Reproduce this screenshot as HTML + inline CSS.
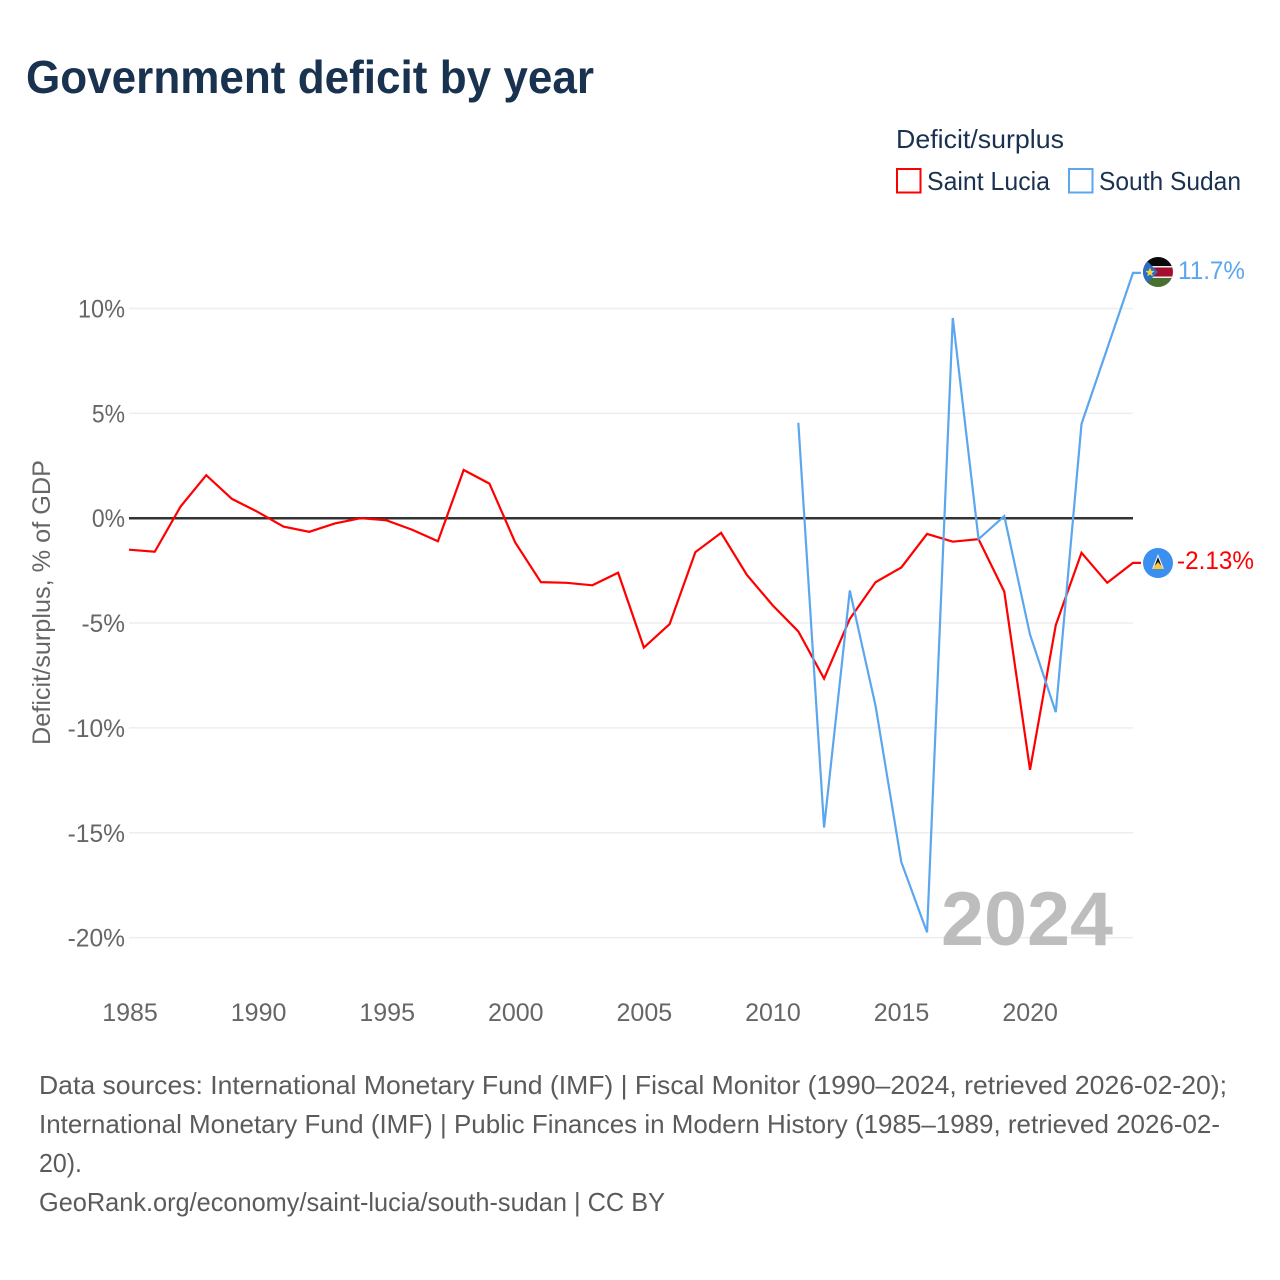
<!DOCTYPE html>
<html lang="en">
<head>
<meta charset="utf-8">
<title>Government deficit by year</title>
<style>
html,body{margin:0;padding:0;background:#fff;width:1280px;height:1280px;overflow:hidden}
svg{display:block}
text{font-family:"Liberation Sans",sans-serif}
.tick{font-size:25px;fill:#666}
.src{font-size:26px;fill:#5b5b5b}
.leg{font-size:26px;fill:#1a3150}
</style>
</head>
<body>
<svg id="chart" xmlns="http://www.w3.org/2000/svg" width="1280" height="1280" viewBox="0 0 1280 1280">
  <rect width="1280" height="1280" fill="#fff"/>
  <text x="26" y="93" font-size="46" font-weight="700" fill="#18324f" textLength="568" lengthAdjust="spacingAndGlyphs">Government deficit by year</text>

  <text class="leg" x="896" y="148" textLength="168" lengthAdjust="spacingAndGlyphs">Deficit/surplus</text>
  <g>
    <rect x="897" y="169" width="23.500" height="23.500" fill="#fff" stroke="#ff0000" stroke-width="2"/>
    <text class="leg" x="927" y="190" textLength="123" lengthAdjust="spacingAndGlyphs">Saint Lucia</text>
  </g>
  <g>
    <rect x="1069" y="169" width="23.500" height="23.500" fill="#fff" stroke="#5ba6ee" stroke-width="2"/>
    <text class="leg" x="1099" y="190" textLength="142" lengthAdjust="spacingAndGlyphs">South Sudan</text>
  </g>

  <text transform="translate(50,745) rotate(-90)" font-size="25" fill="#666" textLength="285" lengthAdjust="spacingAndGlyphs">Deficit/surplus, % of GDP</text>

  <g id="grid"></g>
  <g id="yticks"></g>
  <g id="xticks"></g>

  <text x="941" y="945" font-size="76" font-weight="700" fill="#bdbdbd" textLength="172" lengthAdjust="spacingAndGlyphs">2024</text>

  <g id="series"></g>

  <g>
    <clipPath id="flagClip"><circle cx="1158" cy="272" r="15"/></clipPath>
    <g clip-path="url(#flagClip)">
      <rect x="1143" y="257" width="30" height="10" fill="#0a0a0a"/>
      <rect x="1143" y="267" width="30" height="10" fill="#a50f2d"/>
      <rect x="1143" y="277" width="30" height="10" fill="#4a7030"/>
      <rect x="1143" y="266" width="30" height="1.500" fill="#eee"/>
      <rect x="1143" y="276.500" width="30" height="1.500" fill="#eee"/>
      <polygon points="1143,257 1158,272 1143,287" fill="#2a6fc4"/>
      <polygon points="1150,267.500 1151.300,270.800 1154.500,271 1152,273.100 1152.800,276.300 1150,274.500 1147.200,276.300 1148,273.100 1145.500,271 1148.700,270.800" fill="#f5d33b"/>
    </g>
  </g>
  <g>
    <circle cx="1158" cy="563" r="15" fill="#3a8ff0"/>
    <polygon points="1158,554 1164,569 1152,569" fill="#f0f0f0"/>
    <polygon points="1158,557 1162.500,569 1153.500,569" fill="#111"/>
    <polygon points="1158,562 1164,569 1152,569" fill="#f5c93b"/>
  </g>
  <text id="label-ss" x="1178" y="279" font-size="25" fill="#5ba6ee" textLength="67" lengthAdjust="spacingAndGlyphs">11.7%</text>
  <text id="label-sl" x="1177" y="569" font-size="25" fill="#ff0000" textLength="77" lengthAdjust="spacingAndGlyphs">-2.13%</text>

  <g>
    <text class="src" x="39" y="1094" textLength="1188" lengthAdjust="spacingAndGlyphs">Data sources: International Monetary Fund (IMF) | Fiscal Monitor (1990–2024, retrieved 2026-02-20);</text>
    <text class="src" x="39" y="1133" textLength="1181" lengthAdjust="spacingAndGlyphs">International Monetary Fund (IMF) | Public Finances in Modern History (1985–1989, retrieved 2026-02-</text>
    <text class="src" x="39" y="1172" textLength="43" lengthAdjust="spacingAndGlyphs">20).</text>
    <text class="src" x="39" y="1211" textLength="626" lengthAdjust="spacingAndGlyphs">GeoRank.org/economy/saint-lucia/south-sudan | CC BY</text>
  </g>
</svg>
<script>
const saintLuciaYears = [1985,1986,1987,1988,1989,1990,1991,1992,1993,1994,1995,1996,1997,1998,1999,2000,2001,2002,2003,2004,2005,2006,2007,2008,2009,2010,2011,2012,2013,2014,2015,2016,2017,2018,2019,2020,2021,2022,2023,2024];
const saintLuciaValues = [-1.5,-1.6,0.55,2.05,0.92,0.3,-0.4,-0.65,-0.25,0,-0.1,-0.55,-1.1,2.3,1.65,-1.15,-3.05,-3.08,-3.2,-2.6,-6.17,-5.05,-1.62,-0.7,-2.7,-4.15,-5.4,-7.65,-4.8,-3.05,-2.35,-0.75,-1.12,-1.0,-3.5,-12.0,-5.1,-1.65,-3.08,-2.13];
const southSudanYears = [2011,2012,2013,2014,2015,2016,2017,2018,2019,2020,2021,2022,2023,2024];
const southSudanValues = [4.55,-14.75,-3.45,-8.95,-16.4,-19.75,9.55,-1.0,0.1,-5.55,-9.25,4.5,8.1,11.7];
const yTickValues = [10,5,0,-5,-10,-15,-20];
const yTickLabels = ['10%','5%','0%','-5%','-10%','-15%','-20%'];
const xTickValues = [1985,1990,1995,2000,2005,2010,2015,2020];
const xTickLabels = ['1985','1990','1995','2000','2005','2010','2015','2020'];

const NS = 'http://www.w3.org/2000/svg';
const xScale = year => 129 + (year - 1985) * (1133 - 129) / 39;
const tickX = year => 130 + (year - 1985) * (1133 - 130) / 39;
const yScale = value => 518.2 - value * 20.97;

const gridGroup = document.getElementById('grid');
const yTickGroup = document.getElementById('yticks');
const xTickGroup = document.getElementById('xticks');
const seriesGroup = document.getElementById('series');

yTickValues.forEach((v, i) => {
  if (v !== 0) {
    const line = document.createElementNS(NS, 'line');
    
    
    line.setAttribute('x1', 129);
    line.setAttribute('x2', 1133);
    line.setAttribute('y1', yScale(v));
    line.setAttribute('y2', yScale(v));
    line.setAttribute('stroke', '#eeeeee');
    line.setAttribute('stroke-width', 1.5);
    gridGroup.appendChild(line);
  }
  const label = document.createElementNS(NS, 'text');
  
  
  label.setAttribute('class', 'tick');
  label.setAttribute('x', 125);
  label.setAttribute('y', yScale(v) + 9);
  label.setAttribute('text-anchor', 'end');
  label.textContent = yTickLabels[i];
  yTickGroup.appendChild(label);
  const natural = label.getComputedTextLength();
  label.setAttribute('textLength', natural - (v >= 0 ? 3 : 1));
  label.setAttribute('lengthAdjust', 'spacingAndGlyphs');
});

xTickValues.forEach((v, i) => {
  const label = document.createElementNS(NS, 'text');
  
  
  label.setAttribute('class', 'tick');
  label.setAttribute('x', tickX(v));
  label.setAttribute('y', 1021);
  label.setAttribute('text-anchor', 'middle');
  label.textContent = xTickLabels[i];
  xTickGroup.appendChild(label);
});

const zeroLine = document.createElementNS(NS, 'line');


zeroLine.setAttribute('x1', 129);
zeroLine.setAttribute('x2', 1133);
zeroLine.setAttribute('y1', yScale(0));
zeroLine.setAttribute('y2', yScale(0));
zeroLine.setAttribute('stroke', '#333333');
zeroLine.setAttribute('stroke-width', 2.5);
gridGroup.appendChild(zeroLine);

function linePoints(years, values) {
  const pts = years.map((y, i) => xScale(y).toFixed(2) + ',' + yScale(values[i]).toFixed(2));
  const last = values[values.length - 1];
  pts.push((xScale(years[years.length - 1]) + 8) + ',' + yScale(last).toFixed(2));
  return pts.join(' ');
}

const southSudanLine = document.createElementNS(NS, 'polyline');


southSudanLine.setAttribute('points', linePoints(southSudanYears, southSudanValues));
southSudanLine.setAttribute('fill', 'none');
southSudanLine.setAttribute('stroke', '#5ba6ee');
southSudanLine.setAttribute('stroke-width', 2.2);
southSudanLine.setAttribute('stroke-linejoin', 'miter');
seriesGroup.appendChild(southSudanLine);

const saintLuciaLine = document.createElementNS(NS, 'polyline');


saintLuciaLine.setAttribute('points', linePoints(saintLuciaYears, saintLuciaValues));
saintLuciaLine.setAttribute('fill', 'none');
saintLuciaLine.setAttribute('stroke', '#ff0000');
saintLuciaLine.setAttribute('stroke-width', 2.2);
saintLuciaLine.setAttribute('stroke-linejoin', 'miter');
seriesGroup.insertBefore(saintLuciaLine, southSudanLine);
</script>
</body>
</html>
